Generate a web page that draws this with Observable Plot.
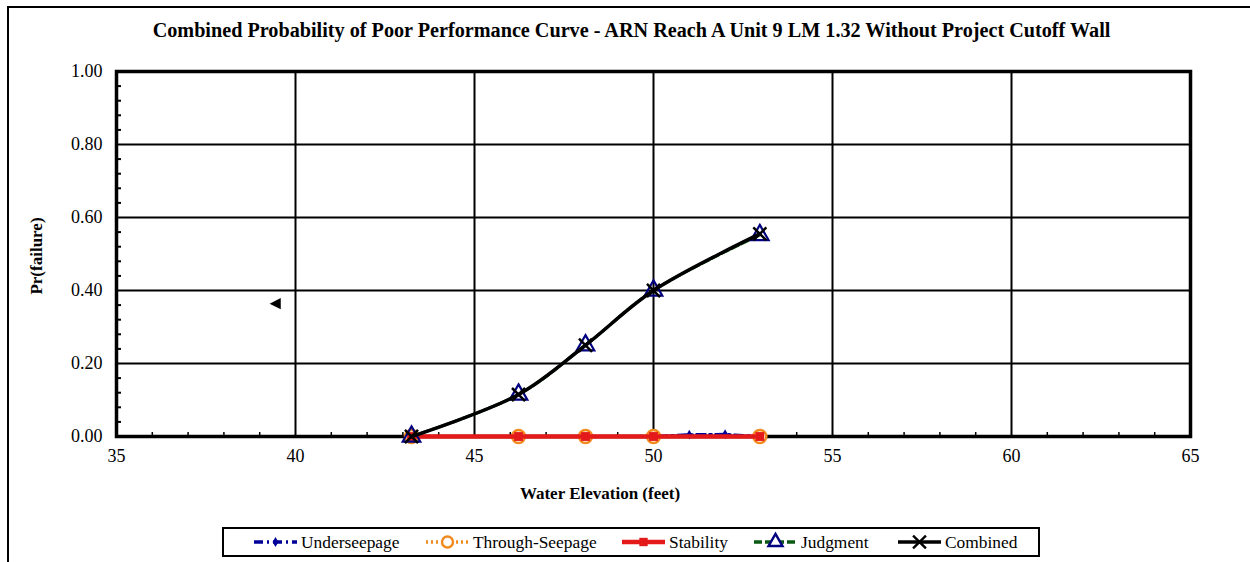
<!DOCTYPE html>
<html>
<head>
<meta charset="utf-8">
<script src="https://cdn.jsdelivr.net/npm/d3@7"></script>
<script src="https://cdn.jsdelivr.net/npm/@observablehq/plot@0.6"></script>
<style>
  body { margin: 0; background: #fff; }
  #wrap { position: relative; width: 1250px; height: 562px; overflow: hidden; font-family: "Liberation Serif", "DejaVu Serif", serif; color: #000; }
  #border { position: absolute; left: 7px; top: 6px; width: 1300px; height: 600px; border-left: 2px solid #000; border-top: 2px solid #000; }
  #title { position: absolute; top: 19px; left: 0; width: 1263px; text-align: center; font-weight: bold; font-size: 20.2px; white-space: nowrap; }
  #chart { position: absolute; left: 0; top: 0; }
  #xlabel { position: absolute; top: 484px; left: 450px; width: 300px; text-align: center; font-weight: bold; font-size: 17px; }
  #ylabel { position: absolute; left: 37px; top: 256px; transform: translate(-50%, -50%) rotate(-90deg); font-weight: bold; font-size: 17px; white-space: nowrap; }
  #legend { position: absolute; left: 222px; top: 527px; width: 814px; height: 26px; border: 2px solid #000; background: #fff; }
  .item { position: absolute; top: 0; height: 26px; display: flex; align-items: center; font-size: 17.4px; white-space: nowrap; }
  .item svg { margin-right: 2px; }
</style>
</head>
<body>
<div id="wrap">
  <div id="border"></div>
  <div id="title">Combined Probability of Poor Performance Curve - ARN Reach A Unit 9 LM 1.32 Without Project Cutoff Wall</div>
  <div id="chart"></div>
  <div id="ylabel">Pr(failure)</div>
  <div id="xlabel">Water Elevation (feet)</div>
  <div id="legend"></div>
</div>
<script>
// ---- data ----
const elevations = [43.24, 46.23, 48.1, 50.0, 52.97];
const underseepageX = [43.24, 46.23, 48.1, 50.0, 51.0, 52.0, 52.97];
const underseepageY = [0.0, 0.0, 0.0, 0.0, 0.005, 0.006, 0.0];
const throughSeepage = [0.0, 0.0, 0.0, 0.0, 0.0];
const stability = [0.0, 0.0, 0.0, 0.0, 0.0];
const judgment = [0.0, 0.115, 0.25, 0.40, 0.552];
const combined = [0.0, 0.115, 0.25, 0.40, 0.555];
const strayMarker = [{x: 39.45, y: 0.364}];
const xTicks = [35, 40, 45, 50, 55, 60, 65];
const yTicks = [0, 0.2, 0.4, 0.6, 0.8, 1.0];
const seriesNames = ["Underseepage", "Through-Seepage", "Stability", "Judgment", "Combined"];

// ---- build tables ----
const under = underseepageX.map((x, i) => ({x, y: underseepageY[i]}));
const through = elevations.map((x, i) => ({x, y: throughSeepage[i]}));
const stab = elevations.map((x, i) => ({x, y: stability[i]}));
const judg = elevations.map((x, i) => ({x, y: judgment[i]}));
const comb = elevations.map((x, i) => ({x, y: combined[i]}));
const xMinor = d3.range(35, 65.001, 1).filter(v => v % 5 !== 0);
const yMinor = d3.range(0, 25).map(i => +(i * 0.04).toFixed(2)).filter(v => Math.abs(v / 0.2 - Math.round(v / 0.2)) > 1e-6);

const leftTriangle = {
  draw(context, size) {
    const r = Math.sqrt(size) * 0.7;
    context.moveTo(-r, 0);
    context.lineTo(r * 0.8, -r * 0.9);
    context.lineTo(r * 0.8, r * 0.9);
    context.closePath();
  }
};

const colors = {
  under: "#000099",
  through: "#F28A1E",
  stab: "#E41A1A",
  judgLine: "#0B5A14",
  judgMark: "#000080",
  comb: "#000000"
};

const noLabel = () => "";

const chart = Plot.plot({
  width: 1250,
  height: 520,
  marginTop: 71,
  marginBottom: 84,
  marginLeft: 116,
  marginRight: 60,
  style: {fontFamily: "'Liberation Serif', 'DejaVu Serif', serif", fontSize: "18px", color: "#000", background: "transparent"},
  x: {domain: [35, 65], label: null},
  y: {domain: [0, 1], label: null},
  marks: [
    Plot.gridX(xTicks.slice(1, -1), {stroke: "#000", strokeOpacity: 1, strokeWidth: 2}),
    Plot.gridY(yTicks.slice(1, -1), {stroke: "#000", strokeOpacity: 1, strokeWidth: 2}),
    Plot.frame({stroke: "#000", strokeWidth: 3.5}),
    Plot.axisX(xTicks, {tickSize: 0, tickPadding: 13, tickFormat: d => d3.format("d")(d)}),
    Plot.axisX(xMinor, {tickSize: -4, tickFormat: noLabel, strokeWidth: 1.5}),
    Plot.axisY(yTicks, {tickSize: 0, tickPadding: 14, tickFormat: d => d.toFixed(2)}),
    Plot.axisY(yMinor, {tickSize: -5, tickFormat: noLabel, strokeWidth: 2}),
    // Underseepage
    Plot.line(under, {x: "x", y: "y", stroke: colors.under, strokeWidth: 3, strokeDasharray: "9,4,2,4"}),
    Plot.dot(under, {x: "x", y: "y", symbol: "diamond", r: 3, fill: colors.under}),
    // Through-Seepage
    Plot.line(through, {x: "x", y: "y", stroke: colors.through, strokeWidth: 3, strokeDasharray: "2,3"}),
    Plot.dot(through, {x: "x", y: "y", symbol: "circle", r: 6.5, stroke: colors.through, strokeWidth: 2.5, fill: "#fff"}),
    // Stability
    Plot.line(stab, {x: "x", y: "y", stroke: colors.stab, strokeWidth: 4.5}),
    Plot.dot(stab, {x: "x", y: "y", symbol: "square", r: 5, fill: colors.stab}),
    // Judgment
    Plot.line(judg, {x: "x", y: "y", stroke: colors.judgLine, strokeWidth: 3, strokeDasharray: "8,3", curve: "catmull-rom"}),
    Plot.dot(judg, {x: "x", y: "y", symbol: "triangle", r: 6.5, stroke: colors.judgMark, strokeWidth: 2.2, fill: "none"}),
    // Combined
    Plot.line(comb, {x: "x", y: "y", stroke: colors.comb, strokeWidth: 3.5, curve: "catmull-rom"}),
    Plot.dot(comb, {x: "x", y: "y", symbol: "times", r: 6, stroke: colors.comb, strokeWidth: 2.5}),
    // stray marker
    Plot.dot(strayMarker, {x: "x", y: "y", symbol: leftTriangle, r: 5, fill: "#000"})
  ]
});
document.getElementById("chart").appendChild(chart);

// ---- legend ----
const legendItems = [
  {name: seriesNames[0], left: 28, stroke: colors.under, dash: "9,4,2,4", width: 3.5, marker: "diamond", mfill: colors.under, mstroke: "none"},
  {name: seriesNames[1], left: 200, stroke: colors.through, dash: "2,3", width: 3.5, marker: "circle", mfill: "#fff", mstroke: colors.through},
  {name: seriesNames[2], left: 396, stroke: colors.stab, dash: null, width: 4.5, marker: "square", mfill: colors.stab, mstroke: "none"},
  {name: seriesNames[3], left: 528, stroke: colors.judgLine, dash: "8,3", width: 3.5, marker: "triangle", mfill: "#fff", mstroke: colors.judgMark},
  {name: seriesNames[4], left: 672, stroke: colors.comb, dash: null, width: 3.5, marker: "times", mfill: "none", mstroke: colors.comb}
];
const symbolMap = {diamond: [d3.symbolDiamond, 30], circle: [d3.symbolCircle, 95], square: [d3.symbolSquare, 70], triangle: [d3.symbolTriangle, 85], times: [d3.symbolTimes, 110]};
const leg = d3.select("#legend");
for (const it of legendItems) {
  const div = leg.append("div").attr("class", "item").style("left", it.left + "px");
  const svg = div.append("svg").attr("width", 47).attr("height", 22);
  svg.append("line").attr("x1", 2).attr("x2", 45).attr("y1", 11).attr("y2", 11)
    .attr("stroke", it.stroke).attr("stroke-width", it.width).attr("stroke-dasharray", it.dash);
  const [sym, size] = symbolMap[it.marker];
  svg.append("path").attr("d", d3.symbol(sym, size)()).attr("transform", "translate(23.5,11)")
    .attr("fill", it.mfill).attr("stroke", it.mstroke).attr("stroke-width", 2.4);
  div.append("span").text(it.name);
}
</script>
</body>
</html>
